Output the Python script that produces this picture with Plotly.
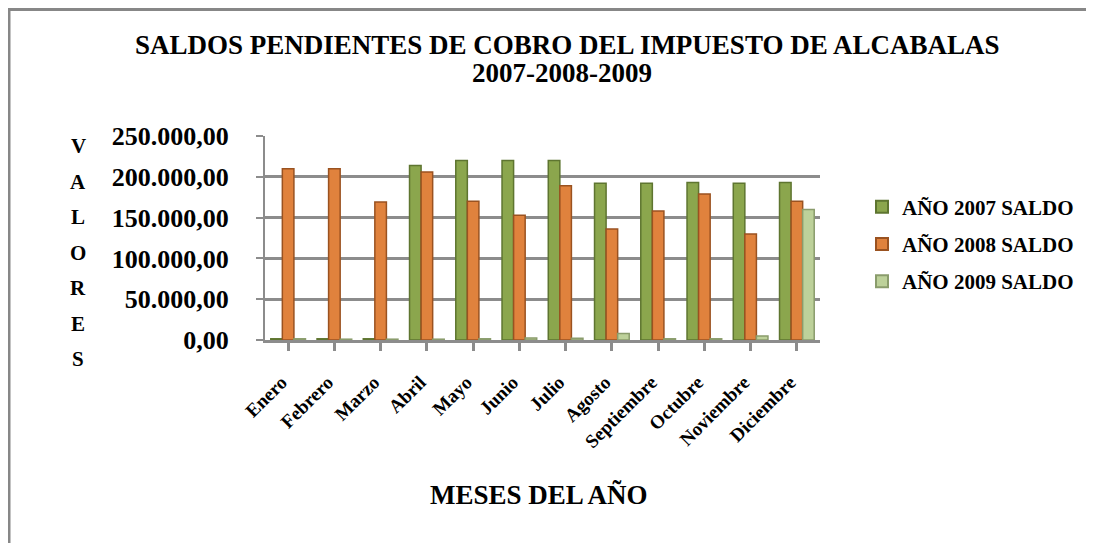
import plotly.graph_objects as go

meses = ["Enero", "Febrero", "Marzo", "Abril", "Mayo", "Junio", "Julio",
         "Agosto", "Septiembre", "Octubre", "Noviembre", "Diciembre"]
saldo_2007 = [1500, 1500, 1500, 214000, 220000, 220000, 220000, 192000, 192000, 193000, 192000, 193000]
saldo_2008 = [210000, 210000, 169000, 206000, 170000, 153000, 189000, 136000, 158000, 179000, 130000, 170000]
saldo_2009 = [1500, 1000, 1000, 1000, 1500, 2500, 2000, 8000, 1500, 1500, 5000, 160000]
y_ticks = [0, 50000, 100000, 150000, 200000, 250000]
y_tick_text = ["0,00", "50.000,00", "100.000,00", "150.000,00", "200.000,00", "250.000,00"]
series_names = ["AÑO 2007 SALDO", "AÑO 2008 SALDO", "AÑO 2009 SALDO"]
titulo_1 = "SALDOS PENDIENTES DE COBRO DEL IMPUESTO DE ALCABALAS"
titulo_2 = "2007-2008-2009"
eje_x = "MESES DEL AÑO"
eje_y = "VALORES"

SERIF = "Liberation Serif"

def b(s):
    return "<b>" + s + "</b>"

fig = go.Figure()
for name, vals, col, edge in [
    (series_names[0], saldo_2007, "#8BA64D", "#5E7530"),
    (series_names[1], saldo_2008, "#E0823D", "#9A5220"),
    (series_names[2], saldo_2009, "#BDD19A", "#8A9C6C"),
]:
    fig.add_trace(go.Bar(x=meses, y=vals, name=b(name), legendgroup=name,
                         marker=dict(color=col, line=dict(color=edge, width=1.5))))

W, H = 1095, 543
OFF = 8  # page body margin
# plot area in page coordinates
PX0, PX1, PY0, PY1 = 265, 820, 136, 340
L, R = PX0 - OFF, W - (PX1 - OFF)
T, B = PY0 - OFF, H - (PY1 - OFF)
pw, ph = W - L - R, H - T - B

def px_x(x):
    return (x - OFF - L) / pw

def px_y(y):
    return (H - B - (y - OFF)) / ph

fig.update_layout(
    width=W, height=H,
    margin=dict(l=L, r=R, t=T, b=B),
    paper_bgcolor="white", plot_bgcolor="white",
    barmode="group", bargap=0.25, bargroupgap=0.0,
    font=dict(family=SERIF, color="black"),
    legend=dict(x=px_x(903) - 41 / pw, y=px_y(244), xanchor="left", yanchor="middle",
                font=dict(family=SERIF, size=21, color="black"),
                traceorder="grouped", tracegroupgap=7, itemsizing="constant",
                bgcolor="rgba(0,0,0,0)"),
    xaxis=dict(tickangle=-45, tickfont=dict(family=SERIF, size=19, color="black"),
               tickprefix="<b>", ticksuffix="</b>\u00a0\u00a0",
               showline=True, linecolor="#8C8C8C", linewidth=3,
               ticks="outside", ticklen=8, tickcolor="#8C8C8C", tickwidth=3,
               ticklabelstandoff=6, showgrid=False),
    yaxis=dict(range=[0, 250000], tickvals=y_ticks, ticktext=[b(t) for t in y_tick_text],
               tickfont=dict(family=SERIF, size=26, color="black"),
               showgrid=True, gridcolor="#8C8C8C", gridwidth=3,
               showline=True, linecolor="#8C8C8C", linewidth=2,
               ticks="outside", ticklen=7, tickcolor="#8C8C8C", tickwidth=2,
               ticklabelstandoff=22, zeroline=False),
    showlegend=True,
)

# title (two lines)
fig.add_annotation(text=b(titulo_1), xref="paper", yref="paper",
                   x=px_x(567), y=px_y(45), xanchor="center", yanchor="middle",
                   showarrow=False, font=dict(family=SERIF, size=27, color="black"))
fig.add_annotation(text=b(titulo_2), xref="paper", yref="paper",
                   x=px_x(562), y=px_y(73), xanchor="center", yanchor="middle",
                   showarrow=False, font=dict(family=SERIF, size=27, color="black"))

# y-axis title as stacked letters
for i, ch in enumerate(eje_y):
    fig.add_annotation(text=b(ch), xref="paper", yref="paper",
                       x=px_x(78), y=px_y(146 + i * 35.5), xanchor="center", yanchor="middle",
                       showarrow=False,
                       font=dict(family=SERIF, size=21, color="black"))

fig.add_annotation(text=b(eje_x), xref="paper", yref="paper",
                   x=px_x(539), y=px_y(495), xanchor="center", yanchor="middle",
                   showarrow=False,
                   font=dict(family=SERIF, size=27, color="black"))

# outer chart border: only left and top edges are visible
fig.add_shape(type="line", xref="paper", yref="paper",
              x0=px_x(9), x1=px_x(9), y0=px_y(560), y1=px_y(9),
              line=dict(color="#878787", width=3), layer="below")
fig.add_shape(type="line", xref="paper", yref="paper",
              x0=px_x(8), x1=px_x(1086), y0=px_y(9.5), y1=px_y(9.5),
              line=dict(color="#878787", width=3), layer="below")

fig.write_html("out.html")
